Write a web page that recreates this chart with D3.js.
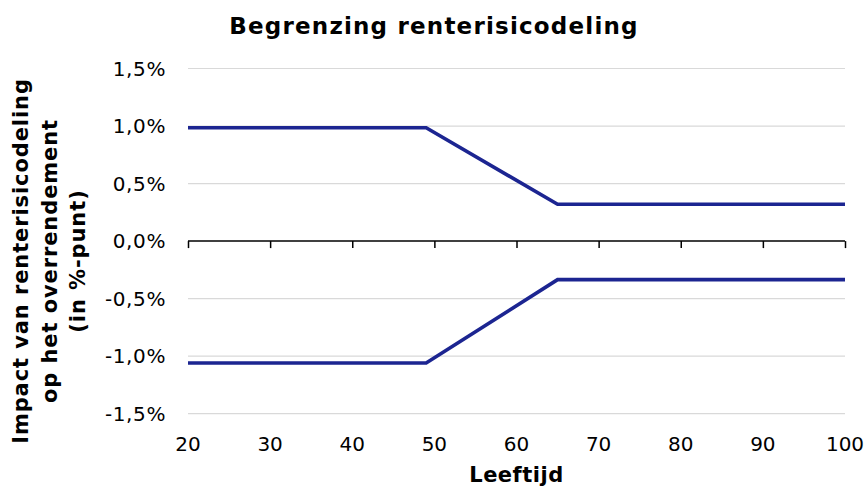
<!DOCTYPE html>
<html><head><meta charset="utf-8">
<script src="https://cdn.jsdelivr.net/npm/d3@7"></script>
<style>body{margin:0;background:#fff;} svg{display:block;}</style>
</head><body>
<svg id="c" width="866" height="486"></svg>
<script>
const title = "Begrenzing renterisicodeling";
const xTitle = "Leeftijd";
const yTitleLines = ["Impact van renterisicodeling", "op het overrendement", "(in %-punt)"];
const ages = [20, 49, 65, 100];
const upper = [0.985, 0.985, 0.32, 0.32];
const lower = [-1.06, -1.06, -0.335, -0.335];
const xTicks = [20, 30, 40, 50, 60, 70, 80, 90, 100];
const yTicks = [-1.5, -1.0, -0.5, 0, 0.5, 1.0, 1.5];

const svg = d3.select("#c");
const font = "Verdana, 'DejaVu Sans', sans-serif";
const L = 188, R = 845, T = 68.5, B = 413.7;
const x = d3.scaleLinear().domain([20, 100]).range([L, R]);
const y = d3.scaleLinear().domain([-1.5, 1.5]).range([B, T]);
const fmt = v => d3.format(".1f")(v).replace("\u2212", "-").replace(".", ",") + "%";

// gridlines
svg.append("g").selectAll("line").data(yTicks.filter(v => v !== 0)).join("line")
  .attr("x1", L).attr("x2", R).attr("y1", d => y(d)).attr("y2", d => y(d))
  .attr("stroke", "#d9d9d9").attr("stroke-width", 1.2);

// y labels
svg.append("g").selectAll("text").data(yTicks).join("text")
  .attr("x", 166).attr("y", d => y(d)).attr("dy", "0.36em")
  .attr("text-anchor", "end").attr("font-family", font).attr("font-size", 20)
  .attr("letter-spacing", 0.6).attr("fill", "#000").text(fmt);

// zero axis with ticks
const xAxis = d3.axisBottom(x).tickValues(xTicks).tickSize(7).tickFormat("");
const ax = svg.append("g").attr("transform", `translate(0,${y(0)})`).call(xAxis);
ax.select(".domain").attr("stroke", "#000").attr("stroke-width", 1.5).attr("d", `M${L},0H${R}`);
ax.selectAll(".tick line").attr("stroke", "#000").attr("stroke-width", 1.5);

// x labels
svg.append("g").selectAll("text").data(xTicks).join("text")
  .attr("x", d => x(d)).attr("y", 451).attr("text-anchor", "middle")
  .attr("font-family", font).attr("font-size", 20).attr("fill", "#000").text(d => d);

// lines
const line = d3.line().x((d, i) => x(ages[i])).y(d => y(d));
[upper, lower].forEach(s => {
  svg.append("path").datum(s).attr("d", line).attr("fill", "none")
    .attr("stroke", "#1c2591").attr("stroke-width", 3.6).attr("stroke-linejoin", "miter");
});

// title
svg.append("text").attr("x", 434).attr("y", 34).attr("text-anchor", "middle")
  .attr("font-family", font).attr("font-weight", "bold").attr("font-size", 23)
  .attr("letter-spacing", 1.2).text(title);

// x title
svg.append("text").attr("x", (L + R) / 2).attr("y", 482).attr("text-anchor", "middle")
  .attr("font-family", font).attr("font-weight", "bold").attr("font-size", 21)
  .attr("letter-spacing", 0.5).text(xTitle);

// y title
const yt = svg.append("text").attr("transform", "translate(0,261) rotate(-90)")
  .attr("text-anchor", "middle").attr("font-family", font).attr("font-weight", "bold")
  .attr("font-size", 21).attr("letter-spacing", 0.9);
yTitleLines.forEach((t, i) => {
  yt.append("tspan").attr("x", 0).attr("y", 28 + i * 28.5).text(t);
});
</script>
</body></html>
